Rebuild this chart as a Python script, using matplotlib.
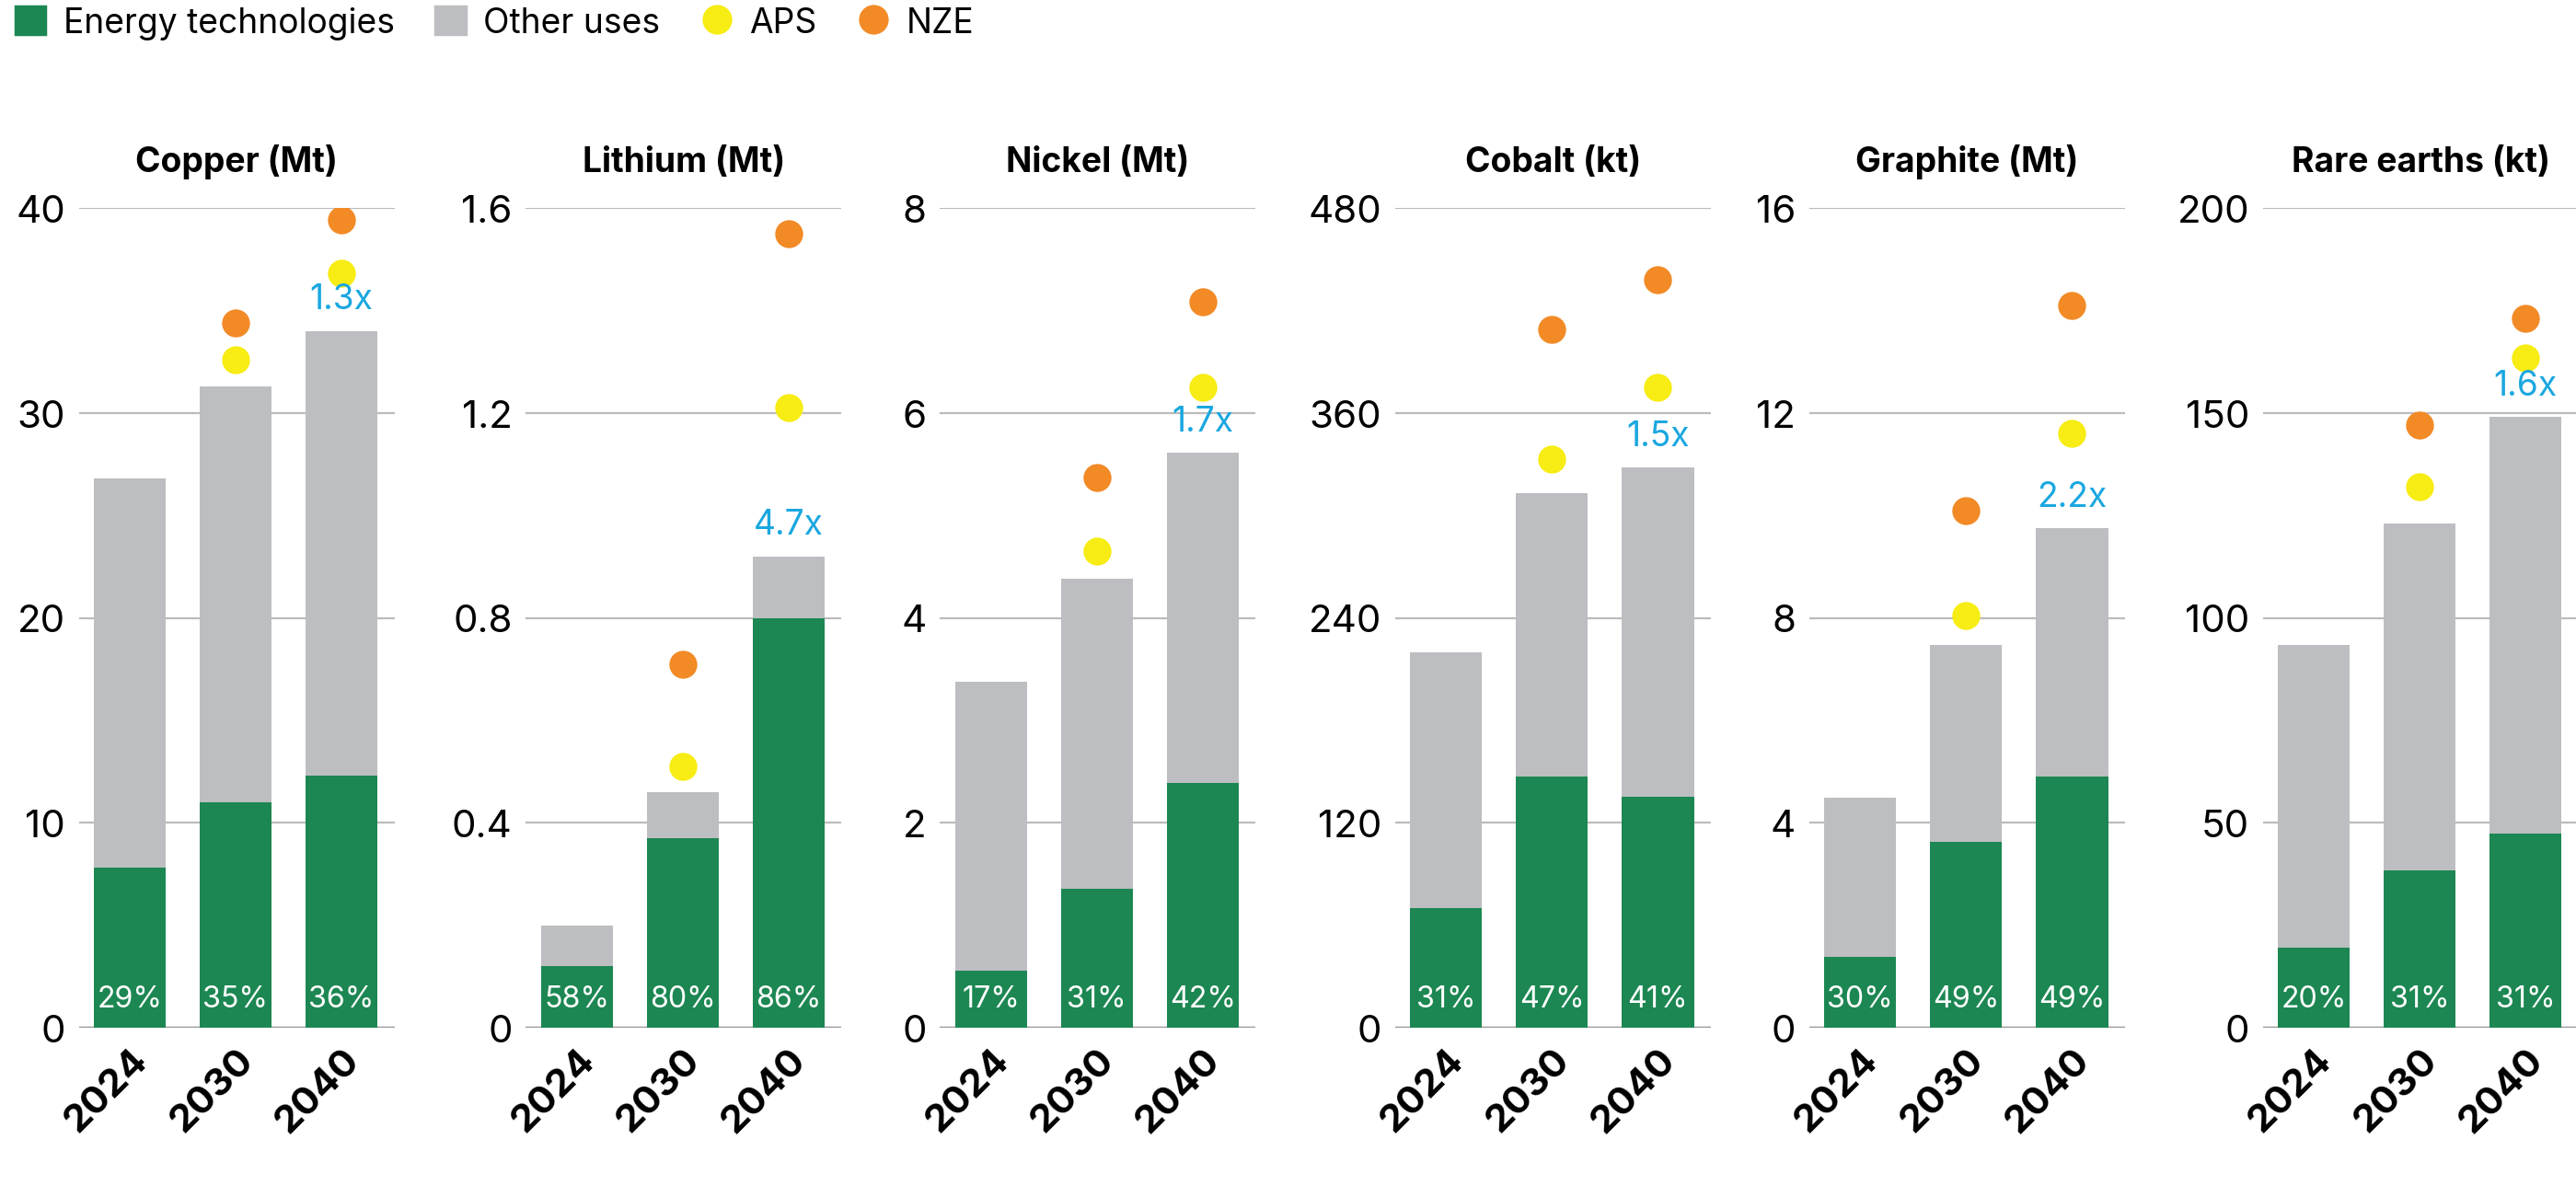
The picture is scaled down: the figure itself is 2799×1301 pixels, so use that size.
import matplotlib
matplotlib.use("Agg")
import matplotlib.pyplot as plt
from matplotlib.patches import Rectangle
from matplotlib.lines import Line2D

years = ["2024", "2030", "2040"]
titles = ["Copper (Mt)", "Lithium (Mt)", "Nickel (Mt)", "Cobalt (kt)", "Graphite (Mt)", "Rare earths (kt)"]
totals = [[26.8, 31.3, 34.0], [0.20, 0.46, 0.92], [3.38, 4.38, 5.61],
          [220, 313, 328], [4.49, 7.47, 9.75], [93.4, 123, 149]]
energy = [[7.8, 11.0, 12.3], [0.12, 0.37, 0.80], [0.56, 1.36, 2.39],
          [70, 147, 135], [1.38, 3.62, 4.91], [19.6, 38.5, 47.3]]
shares = [["29%", "35%", "36%"], ["58%", "80%", "86%"], ["17%", "31%", "42%"],
          ["31%", "47%", "41%"], ["30%", "49%", "49%"], ["20%", "31%", "31%"]]
aps = [[32.6, 36.8], [0.51, 1.21], [4.65, 6.25], [333, 375], [8.05, 11.6], [132, 163.5]]
nze = [[34.4, 39.4], [0.71, 1.55], [5.37, 7.08], [409, 438], [10.1, 14.1], [147, 173]]
multipliers = ["1.3x", "4.7x", "1.7x", "1.5x", "2.2x", "1.6x"]
yticks = [[0, 10, 20, 30, 40], [0, 0.4, 0.8, 1.2, 1.6], [0, 2, 4, 6, 8],
          [0, 120, 240, 360, 480], [0, 4, 8, 12, 16], [0, 50, 100, 150, 200]]
ytick_labels = [["0", "10", "20", "30", "40"], ["0", "0.4", "0.8", "1.2", "1.6"],
                ["0", "2", "4", "6", "8"], ["0", "120", "240", "360", "480"],
                ["0", "4", "8", "12", "16"], ["0", "50", "100", "150", "200"]]

GREEN = "#1c8752"; GREY = "#bdbec1"; YELLOW = "#f7ec13"; ORANGE = "#f28a26"; BLUE = "#1aa7e0"
plt.rcParams["font.family"] = ["Inter", "DejaVu Sans"]

W, H = 1568, 729
fig = plt.figure(figsize=(15.68, 7.29), dpi=178.57)
centers = [79, 351, 603, 880, 1132, 1408]
for i in range(6):
    left = centers[i] - 31
    ax = fig.add_axes([left / W, 1 - 626 / H, 192 / W, (626 - 127) / H])
    x = range(3)
    other = [t - e for t, e in zip(totals[i], energy[i])]
    ax.bar(x, energy[i], width=0.68, color=GREEN, zorder=3)
    ax.bar(x, other, bottom=energy[i], width=0.68, color=GREY, zorder=3)
    top = yticks[i][-1]
    for j in range(3):
        ax.text(j, top * 0.035, shares[i][j], color="white", ha="center", va="center", fontsize=13, zorder=4)
    ax.scatter([1, 2], aps[i], s=150, color=YELLOW, zorder=4, linewidths=0)
    ax.scatter([1, 2], nze[i], s=150, color=ORANGE, zorder=4, linewidths=0)
    ax.text(2, totals[i][2] + top * 0.018, multipliers[i], color=BLUE, ha="center", va="bottom", fontsize=15, zorder=4)
    ax.set_xlim(-0.48, 2.5)
    ax.set_ylim(0, top)
    ax.set_yticks(yticks[i])
    ax.set_yticklabels(ytick_labels[i], fontsize=17)
    ax.set_xticks(list(x))
    ax.set_xticklabels(years, rotation=45, fontsize=17, fontweight="bold", ha="right", rotation_mode="anchor")
    ax.tick_params(length=0, pad=6)
    ax.grid(axis="y", color="#bbbbbb", linewidth=0.9, zorder=0)
    for s in ax.spines.values():
        s.set_visible(False)
    ax.axhline(0, color="#999999", linewidth=1.0, zorder=2)
    ax.set_title(titles[i], fontsize=15, fontweight="bold", pad=16)

handles = [Rectangle((0, 0), 1, 1, color=GREEN), Rectangle((0, 0), 1, 1, color=GREY),
           Line2D([], [], marker="o", ls="", color=YELLOW, markersize=12),
           Line2D([], [], marker="o", ls="", color=ORANGE, markersize=12)]
fig.legend(handles, ["Energy technologies", "Other uses", "APS", "NZE"], loc="upper left",
           bbox_to_anchor=(-0.006, 1.02), ncol=4, frameon=False, fontsize=15,
           handlelength=0.9, handleheight=0.9, columnspacing=1.2, handletextpad=0.5)
fig.savefig("out.png", dpi=178.57)
